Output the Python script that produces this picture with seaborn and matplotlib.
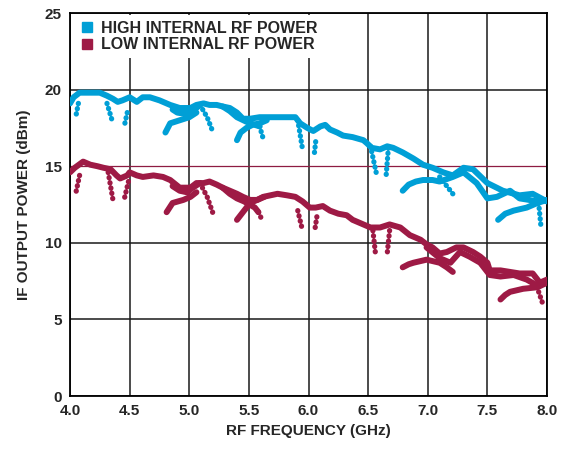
import numpy as np
import pandas as pd
import matplotlib
matplotlib.use("Agg")
import matplotlib.pyplot as plt
import seaborn as sns
from matplotlib.lines import Line2D

# --- data (freq GHz, power dBm) ---
series_names = ["HIGH INTERNAL RF POWER", "LOW INTERNAL RF POWER"]
x_ticks = [4.0, 4.5, 5.0, 5.5, 6.0, 6.5, 7.0, 7.5, 8.0]
y_ticks = [0, 5, 10, 15, 20, 25]

# high internal RF power: sweep traces
hi_main = [(4.00, 19.1), (4.03, 19.5), (4.08, 19.8), (4.14, 19.8), (4.19, 19.8), (4.25, 19.8),
           (4.31, 19.6), (4.36, 19.4), (4.40, 19.2), (4.44, 19.3), (4.50, 19.5), (4.56, 19.2),
           (4.61, 19.5), (4.67, 19.5), (4.75, 19.3), (4.84, 19.0), (4.92, 18.8), (5.01, 18.8),
           (5.06, 19.0), (5.12, 19.1), (5.17, 19.0), (5.23, 19.0), (5.28, 18.9), (5.34, 18.8),
           (5.40, 18.5), (5.45, 18.1), (5.51, 18.1), (5.59, 18.2), (5.65, 18.2), (5.74, 18.2),
           (5.82, 18.2), (5.89, 18.2), (5.93, 17.8), (5.99, 17.5), (6.04, 17.3), (6.10, 17.6),
           (6.14, 17.7), (6.18, 17.4), (6.24, 17.2), (6.29, 17.0), (6.37, 16.9), (6.46, 16.7),
           (6.49, 16.5), (6.53, 16.2), (6.60, 16.1), (6.66, 16.3), (6.71, 16.2), (6.79, 15.9),
           (6.88, 15.5), (6.96, 15.1), (7.04, 14.9), (7.13, 14.6), (7.21, 14.4), (7.30, 14.9),
           (7.38, 14.8), (7.50, 13.9), (7.63, 13.4), (7.77, 13.1), (7.88, 13.2), (8.00, 12.7)]
hi_cross1 = [(4.86, 18.7), (4.90, 18.5), (4.98, 18.4), (5.03, 18.6), (5.09, 19.0)]
hi_cross2 = [(5.28, 18.9), (5.34, 18.6), (5.40, 18.2), (5.48, 17.9), (5.55, 17.7), (5.59, 17.6)]
hi_arc1 = [(4.80, 17.2), (4.84, 17.8), (4.92, 18.0), (5.00, 18.2), (5.06, 18.5)]
hi_arc2 = [(5.40, 16.7), (5.43, 17.2), (5.48, 17.5), (5.53, 17.7), (5.59, 17.8), (5.65, 18.0)]
hi_arc3 = [(6.79, 13.4), (6.84, 13.8), (6.90, 14.0), (6.96, 14.1), (7.04, 14.1), (7.10, 14.0),
           (7.21, 14.3), (7.30, 14.6), (7.41, 13.9), (7.50, 12.9), (7.58, 13.0), (7.69, 13.4),
           (7.77, 12.9), (7.85, 12.8), (7.92, 12.7), (8.00, 12.8)]
hi_arc4 = [(7.59, 11.5), (7.65, 11.9), (7.72, 12.1), (7.83, 12.3), (7.92, 12.6), (8.00, 12.8)]
hi_dips = [[(4.07, 19.1), (4.05, 18.3)], [(4.31, 19.1), (4.36, 17.8)], [(4.48, 18.5), (4.46, 17.8)],
           [(5.09, 19.0), (5.15, 18.2), (5.20, 17.2)], [(5.59, 17.6), (5.62, 16.8)],
           [(5.91, 18.0), (5.95, 16.1)], [(6.06, 16.6), (6.05, 15.9)], [(6.52, 16.3), (6.57, 14.5)],
           [(6.67, 16.2), (6.65, 14.3)], [(7.10, 14.3), (7.16, 13.7), (7.21, 13.2)],
           [(7.93, 12.6), (7.95, 11.0)]]

# low internal RF power: sweep traces
lo_main = [(4.00, 14.6), (4.04, 14.9), (4.11, 15.3), (4.17, 15.1), (4.23, 15.0), (4.28, 14.9),
           (4.34, 14.8), (4.39, 14.4), (4.42, 14.2), (4.48, 14.4), (4.50, 14.6), (4.56, 14.4),
           (4.61, 14.3), (4.70, 14.4), (4.78, 14.3), (4.84, 14.1), (4.92, 13.6), (5.01, 13.6),
           (5.06, 13.9), (5.12, 13.9), (5.17, 14.0), (5.23, 13.8), (5.28, 13.6), (5.34, 13.4),
           (5.40, 13.2), (5.45, 13.0), (5.51, 12.8), (5.57, 12.8), (5.62, 13.0), (5.68, 13.1),
           (5.74, 13.2), (5.82, 13.1), (5.89, 13.0), (5.95, 12.7), (6.01, 12.3), (6.06, 12.3),
           (6.12, 12.4), (6.18, 12.1), (6.25, 11.9), (6.32, 11.8), (6.37, 11.5), (6.46, 11.2),
           (6.52, 11.0), (6.60, 11.0), (6.68, 11.2), (6.77, 11.0), (6.85, 10.5), (6.94, 10.2),
           (6.99, 9.9), (7.04, 9.7), (7.10, 9.3), (7.16, 9.4), (7.24, 9.7), (7.30, 9.7),
           (7.38, 9.4), (7.44, 9.1), (7.50, 8.7), (7.52, 8.2), (7.61, 8.2), (7.69, 8.1),
           (7.77, 8.0), (7.88, 8.0), (7.94, 7.4), (8.00, 7.6)]
lo_cross1 = [(4.86, 13.7), (4.92, 13.4), (4.98, 13.3), (5.03, 13.6), (5.09, 13.9)]
lo_cross2 = [(5.28, 13.6), (5.34, 13.2), (5.40, 12.9), (5.46, 12.7), (5.55, 12.3), (5.58, 12.0)]
lo_arc1 = [(4.81, 12.0), (4.86, 12.6), (4.95, 12.8), (5.01, 13.0), (5.06, 13.3)]
lo_arc2 = [(5.40, 11.5), (5.45, 12.0), (5.51, 12.6), (5.57, 12.8), (5.63, 13.0)]
lo_arc3 = [(6.99, 9.7), (7.10, 9.0), (7.19, 8.7), (7.27, 9.4), (7.35, 9.1), (7.44, 8.7),
           (7.52, 7.9), (7.61, 7.8), (7.72, 7.9), (7.83, 7.6), (7.92, 7.2), (8.00, 7.4)]
lo_arc4 = [(6.79, 8.4), (6.84, 8.6), (6.88, 8.7), (6.99, 8.9), (7.10, 8.7), (7.16, 8.4), (7.21, 8.1)]
lo_arc5 = [(7.61, 6.3), (7.65, 6.6), (7.69, 6.8), (7.80, 7.0), (7.92, 7.1), (8.00, 7.4)]
lo_dips = [[(4.08, 14.4), (4.05, 13.3)], [(4.32, 14.6), (4.36, 12.8)], [(4.49, 14.0), (4.45, 12.7)],
           [(5.09, 13.9), (5.15, 13.0), (5.20, 11.9)], [(5.58, 12.0), (5.61, 11.5)],
           [(5.91, 12.1), (5.95, 10.8)], [(6.07, 11.7), (6.05, 10.7)], [(6.54, 10.8), (6.56, 9.4)],
           [(6.68, 10.8), (6.66, 9.3)], [(7.93, 6.8), (7.97, 5.9)]]

hi_traces = [hi_main, hi_cross1, hi_cross2, hi_arc1, hi_arc2, hi_arc3, hi_arc4]
lo_traces = [lo_main, lo_cross1, lo_cross2, lo_arc1, lo_arc2, lo_arc3, lo_arc4, lo_arc5]

colors = {"HIGH INTERNAL RF POWER": "#009FD6", "LOW INTERNAL RF POWER": "#9E1A45"}

sns.set_style("white")
plt.rcParams["font.family"] = ["Liberation Sans", "DejaVu Sans"]
plt.rcParams["font.weight"] = "bold"

fig = plt.figure(figsize=(5.62, 4.49), dpi=100)
ax = fig.add_axes([0.1246, 0.118, 0.8487, 0.853])


def draw(traces, dips, name):
    c = colors[name]
    for tr in traces:
        df = pd.DataFrame(tr, columns=["freq", "power"])
        sns.lineplot(data=df, x="freq", y="power", ax=ax, color=c, linewidth=4.3,
                     sort=False, estimator=None, solid_capstyle="round",
                     solid_joinstyle="round", zorder=3)
    for d in dips:
        df = pd.DataFrame(d, columns=["freq", "power"])
        sns.lineplot(data=df, x="freq", y="power", ax=ax, color=c, linewidth=3.8,
                     sort=False, estimator=None, linestyle=(0, (0.05, 0.95)),
                     dash_capstyle="round", zorder=3)


draw(hi_traces, hi_dips, series_names[0])
draw(lo_traces, lo_dips, series_names[1])

ax.set_xlim(4.0, 8.0)
ax.set_ylim(0, 25)
ax.set_xticks(x_ticks)
ax.set_yticks(y_ticks)
ax.set_xticklabels([f"{v:.1f}" for v in x_ticks], fontsize=11, fontweight="bold")
ax.set_yticklabels([str(v) for v in y_ticks], fontsize=11, fontweight="bold")
ax.tick_params(length=0, pad=6)

ax.grid(True, color="#1a1a1a", linewidth=1.1, zorder=1)
ax.set_axisbelow(True)
for gl, v in zip(ax.yaxis.get_gridlines(), y_ticks):
    if v == 15:
        gl.set_color("#8E1B42")
        gl.set_linewidth(0.9)
for s in ax.spines.values():
    s.set_color("black")
    s.set_linewidth(1.3)

ax.set_xlabel("RF FREQUENCY (GHz)", fontsize=11, fontweight="bold", labelpad=4)
ax.set_ylabel("IF OUTPUT POWER (dBm)", fontsize=11, fontweight="bold", labelpad=10)

handles = [Line2D([], [], marker="s", linestyle="none", color=colors[n], markersize=7)
           for n in series_names]
leg = ax.legend(handles, series_names, loc="upper left", bbox_to_anchor=(0.01, 0.995),
                frameon=True, fancybox=False, framealpha=1, facecolor="white",
                edgecolor="none", handlelength=0.8, handletextpad=0.5, labelspacing=0.1,
                borderpad=0.35, borderaxespad=0.0, prop={"size": 11.5, "weight": "bold"})
leg.set_zorder(5)

fig.savefig("out.png", dpi=100)
